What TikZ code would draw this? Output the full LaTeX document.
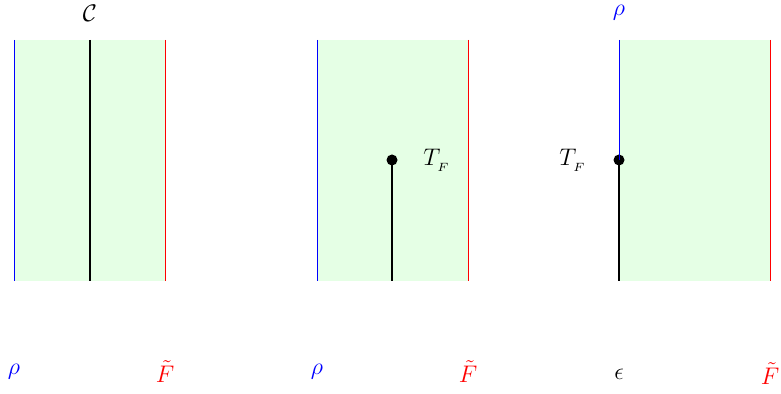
\documentclass[tikz,border=0pt]{standalone}
\usepackage{amsmath}
\usetikzlibrary{positioning}
\begin{document}
\begin{tikzpicture}[x=0.5pt,y=-0.5pt,
  strip/.style={fill=green!10,draw=none},
  wall/.style={line width=0.5pt},
  cut/.style={line width=1pt,black},
  dot/.style={circle,fill=black,inner sep=0pt,minimum size=5.5pt},
  lbl/.style={font=\large,inner sep=1pt},
]
  \useasboundingbox (0,0) rectangle (781,394);

  % first panel: full cut
  \fill[strip] (14,40) rectangle (165,281);
  \coordinate (b1t) at (14,40);  \coordinate (b1b) at (14,281);
  \coordinate (c1t) at (90,40);  \coordinate (c1b) at (90,281);
  \coordinate (r1t) at (165,40); \coordinate (r1b) at (165,281);
  \draw[wall,blue] (b1t) -- (b1b);
  \draw[wall,red] (r1t) -- (r1b);
  \draw[cut] (c1t) -- (c1b);
  \node[lbl] (C) at (90,13) {$\mathcal{C}$};
  \node[lbl,blue] (rho1) at (14,372) {$\rho$};
  \node[lbl,red] (F1) at (165,372) {$\tilde{F}$};

  % second panel: cut ending in the bulk
  \fill[strip] (317,40) rectangle (468,281);
  \coordinate (b2t) at (317,40);  \coordinate (b2b) at (317,281);
  \coordinate (r2t) at (468,40);  \coordinate (r2b) at (468,281);
  \coordinate (c2b) at (392,281);
  \draw[wall,blue] (b2t) -- (b2b);
  \draw[wall,red] (r2t) -- (r2b);
  \node[dot] (T2) at (392,160) {};
  \draw[cut] (c2b) -- (T2.center);
  \node[lbl] (TF2) at (437,160) {$T_{_F}$};
  \node[lbl,blue] (rho2) at (317,372) {$\rho$};
  \node[lbl,red] (F2) at (468,372) {$\tilde{F}$};

  % third panel: cut ending on the boundary
  \fill[strip] (619,40) rectangle (770,281);
  \coordinate (b3t) at (619,40);  \coordinate (c3b) at (619,281);
  \coordinate (r3t) at (770,40);  \coordinate (r3b) at (770,281);
  \node[dot] (T3) at (619,160) {};
  \draw[wall,blue] (b3t) -- (T3.center);
  \draw[wall,red] (r3t) -- (r3b);
  \draw[cut] (c3b) -- (T3.center);
  \node[lbl] (TF3) at (573,160) {$T_{_F}$};
  \node[lbl,blue] (rho3) at (619,13) {$\rho$};
  \node[lbl] (eps) at (619,374) {$\epsilon$};
  \node[lbl,red] (F3) at (770,374) {$\tilde{F}$};
\end{tikzpicture}
\end{document}
